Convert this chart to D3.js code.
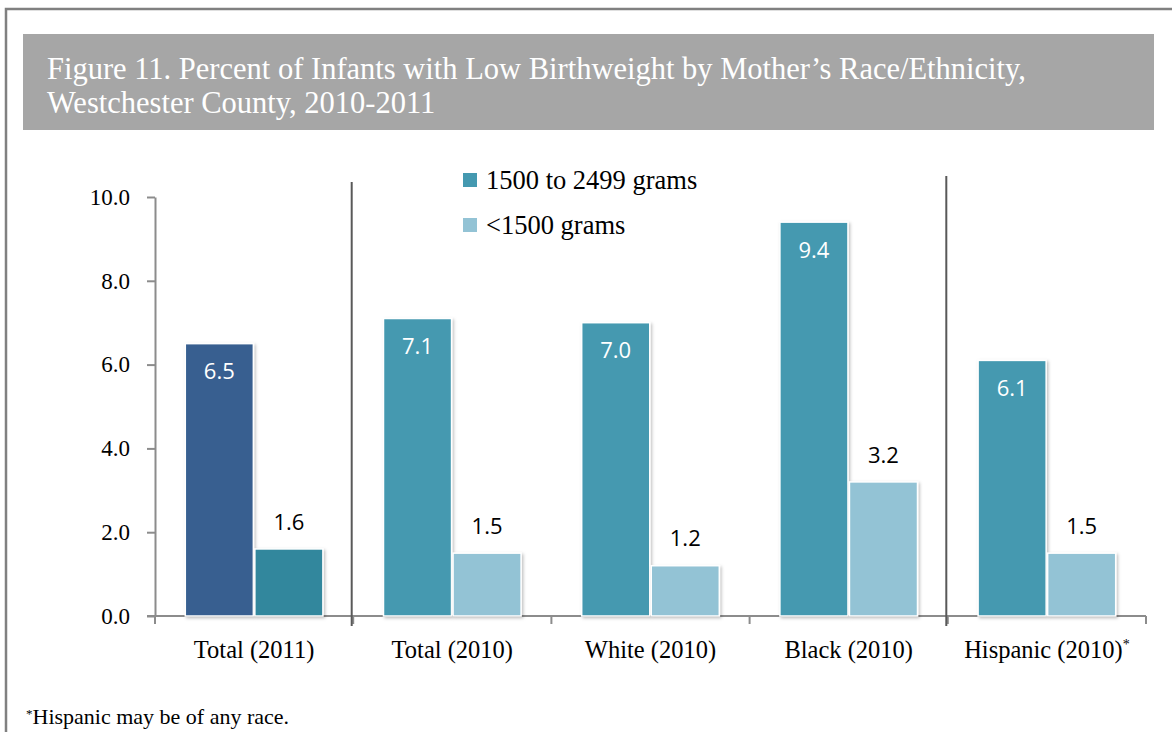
<!DOCTYPE html>
<html>
<head>
<meta charset="utf-8">
<script src="https://cdn.jsdelivr.net/npm/d3@7"></script>
<style>
  html, body { margin: 0; padding: 0; background: #fff; }
  svg { display: block; }
</style>
</head>
<body>
<svg id="chart" width="1172" height="732"></svg>
<script>
// data
const categories = ["Total (2011)", "Total (2010)", "White (2010)", "Black (2010)", "Hispanic (2010)"];
const seriesNames = ["1500 to 2499 grams", "<1500 grams"];
const moderateLow = [6.5, 7.1, 7.0, 9.4, 6.1];   // 1500 to 2499 grams
const veryLow     = [1.6, 1.5, 1.2, 3.2, 1.5];   // <1500 grams
const yTicks = [0, 2, 4, 6, 8, 10];
const separatorsAfter = ["Total (2011)", "Black (2010)"];

const width = 1172, height = 732;
const serif = "'Liberation Serif', 'Times New Roman', serif";
const sans = "'Open Sans', 'DejaVu Sans', sans-serif";

// colours: the 2011 group used its own palette
const colors = {
  default: ["#4499b0", "#93c3d5"],
  "Total (2011)": ["#375f90", "#31879d"]
};

const svg = d3.select("#chart");

const defs = svg.append("defs");
const shadow = defs.append("filter").attr("id", "shadow")
  .attr("x", "-10%").attr("y", "-10%").attr("width", "130%").attr("height", "130%");
shadow.append("feDropShadow")
  .attr("dx", 1.5).attr("dy", 1.5).attr("stdDeviation", 1.5)
  .attr("flood-color", "#000").attr("flood-opacity", 0.25);

// outer frame (top + left edge visible)
svg.append("path")
  .attr("d", `M6,${height} L6,9 L${width},9`)
  .attr("fill", "none")
  .attr("stroke", "#808080")
  .attr("stroke-width", 2.5);

// title band
svg.append("rect")
  .attr("x", 23).attr("y", 34)
  .attr("width", 1131).attr("height", 96)
  .attr("fill", "#a6a6a6");

const titleLines = [
  "Figure 11. Percent of Infants with Low Birthweight by Mother\u2019s Race/Ethnicity,",
  "Westchester County, 2010-2011"
];
svg.append("text")
  .attr("x", 47).attr("y", 79)
  .style("font-family", serif)
  .style("font-size", "30.5px")
  .style("fill", "#fff")
  .selectAll("tspan")
  .data(titleLines)
  .join("tspan")
    .attr("x", 47)
    .attr("dy", (d, i) => i === 0 ? 0 : 34)
    .text(d => d);

// scales
const x0 = d3.scaleBand()
  .domain(categories)
  .range([155, 1146])
  .paddingInner(0)
  .paddingOuter(0);

const x1 = d3.scaleBand()
  .domain([0, 1])
  .range([0, x0.bandwidth()])
  .paddingInner(0)
  .paddingOuter(0.425);

const y = d3.scaleLinear()
  .domain([0, 10])
  .range([616, 197]);

// y axis
const yAxis = svg.append("g")
  .attr("transform", "translate(155,0)")
  .call(d3.axisLeft(y).tickValues(yTicks).tickFormat(d3.format(".1f")).tickSize(8).tickSizeOuter(0).tickPadding(17));
yAxis.selectAll("path, line").attr("stroke", "#8c8c8c").attr("stroke-width", 2);
yAxis.selectAll("text")
  .style("font-family", serif)
  .style("font-size", "23px")
  .style("fill", "#000");

// x axis baseline and category boundary ticks
const bounds = categories.map(c => x0(c)).concat([x0.range()[1]]);
svg.append("line")
  .attr("x1", 147).attr("x2", x0.range()[1])
  .attr("y1", y(0)).attr("y2", y(0))
  .attr("stroke", "#8c8c8c").attr("stroke-width", 2);
svg.append("g")
  .selectAll("line")
  .data(bounds)
  .join("line")
    .attr("x1", d => d).attr("x2", d => d)
    .attr("y1", y(0)).attr("y2", y(0) + 8)
    .attr("stroke", "#8c8c8c").attr("stroke-width", 2);

// category labels
svg.append("g")
  .selectAll("text")
  .data(categories)
  .join("text")
    .attr("x", d => x0(d) + x0.bandwidth() / 2)
    .attr("y", 658)
    .attr("text-anchor", "middle")
    .style("font-family", serif)
    .style("font-size", "24.5px")
    .style("fill", "#000")
    .text(d => d)
    .filter(d => d === "Hispanic (2010)")
    .append("tspan")
      .attr("dy", -9)
      .style("font-size", "14px")
      .text("*");

// group separators
svg.append("g")
  .selectAll("line")
  .data(separatorsAfter)
  .join("line")
    .attr("x1", d => x0(d) + x0.bandwidth() - 1.5)
    .attr("x2", d => x0(d) + x0.bandwidth() - 1.5)
    .attr("y1", (d, i) => i === 0 ? 182 : 176)
    .attr("y2", 626)
    .attr("stroke", "#595959")
    .attr("stroke-width", 2);

// bars
const rows = categories.map((c, i) => ({ cat: c, values: [moderateLow[i], veryLow[i]] }));

const groups = svg.append("g")
  .selectAll("g")
  .data(rows)
  .join("g")
    .attr("transform", d => `translate(${x0(d.cat)},0)`);

groups.selectAll("rect")
  .data(d => d.values.map((v, k) => ({ cat: d.cat, k, v })))
  .join("rect")
    .attr("x", d => x1(d.k) + 0.75)
    .attr("width", x1.bandwidth() - 1.5)
    .attr("y", d => y(d.v))
    .attr("height", d => y(0) - y(d.v))
    .attr("fill", d => (colors[d.cat] || colors.default)[d.k])
    .attr("stroke", "#fff")
    .attr("stroke-width", 1.5)
    .attr("filter", "url(#shadow)");

groups.selectAll("text.value")
  .data(d => d.values.map((v, k) => ({ cat: d.cat, k, v })))
  .join("text")
    .attr("class", "value")
    .attr("x", d => x1(d.k) + x1.bandwidth() / 2)
    .attr("y", d => d.k === 0 ? y(d.v) + 28 : y(d.v) - 27)
    .attr("dy", "0.35em")
    .attr("text-anchor", "middle")
    .style("font-family", sans)
    .style("font-size", "22px")
    .style("fill", d => d.k === 0 ? "#fff" : "#000")
    .text(d => d.v.toFixed(1));

// legend
const legend = svg.append("g")
  .selectAll("g")
  .data(seriesNames)
  .join("g")
    .attr("transform", (d, i) => `translate(463,${173 + i * 45})`);
legend.append("rect")
  .attr("width", 14).attr("height", 14)
  .attr("fill", (d, i) => colors.default[i]);
legend.append("text")
  .attr("x", 23).attr("y", 7)
  .attr("dy", "0.35em")
  .style("font-family", serif)
  .style("font-size", "26.5px")
  .style("fill", "#000")
  .text(d => d);

// footnote
svg.append("text")
  .attr("x", 26).attr("y", 724)
  .style("font-family", serif)
  .style("font-size", "22px")
  .style("fill", "#000")
  .call(t => t.append("tspan").attr("dy", -6).style("font-size", "13px").text("*"))
  .call(t => t.append("tspan").attr("dy", 6).text("Hispanic may be of any race."));
</script>
</body>
</html>
